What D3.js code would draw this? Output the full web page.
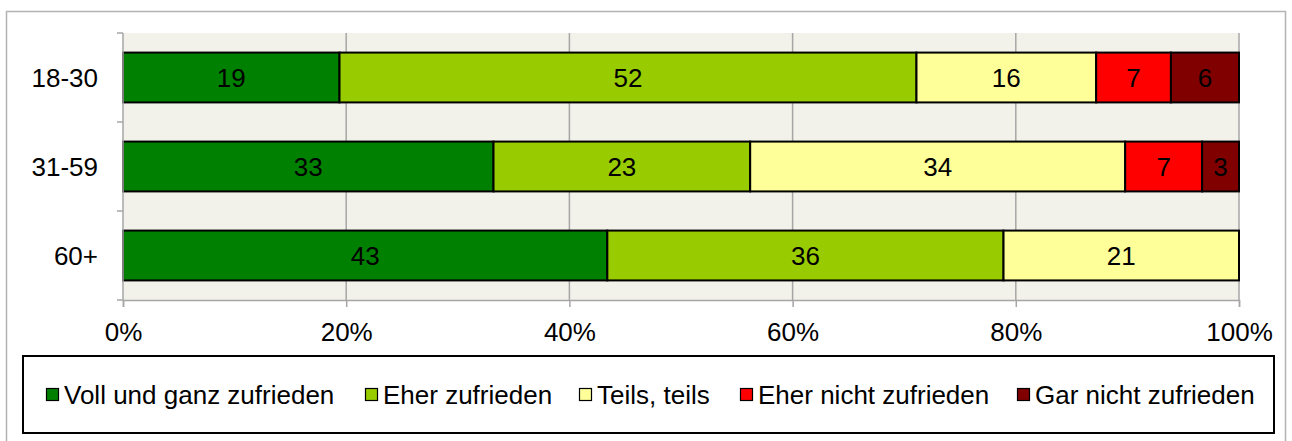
<!DOCTYPE html>
<html>
<head>
<meta charset="utf-8">
<script src="https://cdn.jsdelivr.net/npm/d3@7"></script>
<style>
  body { margin: 0; background: #fff; }
  svg { display: block; font-family: "Liberation Sans", Arial, sans-serif; }
</style>
</head>
<body>
<script>
// age groups and answer categories
const groups = ["18-30", "31-59", "60+"];
const answers = ["Voll und ganz zufrieden", "Eher zufrieden", "Teils, teils", "Eher nicht zufrieden", "Gar nicht zufrieden"];
const colors = ["#008000", "#99cc00", "#ffff99", "#ff0000", "#800000"];

// shares in percent, one array per answer (order = groups)
const vollZufrieden = [19.4, 33.2, 43.4];
const eherZufrieden = [51.7, 23.0, 35.5];
const teilsTeils = [16.1, 33.6, 21.1];
const eherNicht = [6.7, 6.9, 0];
const garNicht = [6.1, 3.3, 0];
const series = [vollZufrieden, eherZufrieden, teilsTeils, eherNicht, garNicht];

const xTicks = [0, 20, 40, 60, 80, 100];

const width = 1292;
const height = 441;
const fontSize = 26;
const plot = { left: 123, right: 1239, top: 33, bottom: 300 };

const svg = d3.select("body").append("svg")
  .attr("width", width)
  .attr("height", height);

// outer chart frame
svg.append("rect")
  .attr("x", 6.5).attr("y", 11.5)
  .attr("width", 1279).attr("height", 440)
  .attr("fill", "none")
  .attr("stroke", "#b3b3b3")
  .attr("stroke-width", 1.5);

const x = d3.scaleLinear()
  .domain([0, 100])
  .range([plot.left, plot.right]);

const y = d3.scaleBand()
  .domain(groups)
  .range([plot.top, plot.bottom])
  .paddingInner(0.44)
  .paddingOuter(0.22);

// plot background
svg.append("rect")
  .attr("x", x(0)).attr("y", plot.top)
  .attr("width", x(100) - x(0))
  .attr("height", plot.bottom - plot.top)
  .attr("fill", "#f2f1ea");

// vertical gridlines
svg.append("g")
  .selectAll("line")
  .data(xTicks.slice(1))
  .join("line")
  .attr("x1", d => x(d)).attr("x2", d => x(d))
  .attr("y1", plot.top).attr("y2", plot.bottom)
  .attr("stroke", "#a6a6a6")
  .attr("stroke-width", 1.5);

// stacking
const stacked = groups.map((g, gi) => {
  let acc = 0;
  return series.map((s, si) => {
    const seg = { group: g, idx: si, value: s[gi], x0: acc, x1: acc + s[gi] };
    acc += s[gi];
    return seg;
  }).filter(d => d.value > 0);
});

const bars = svg.append("g")
  .selectAll("g")
  .data(stacked)
  .join("g");

bars.selectAll("rect")
  .data(d => d)
  .join("rect")
  .attr("x", d => x(d.x0))
  .attr("y", d => y(d.group))
  .attr("width", d => x(d.x1) - x(d.x0))
  .attr("height", y.bandwidth())
  .attr("fill", d => colors[d.idx])
  .attr("stroke", "#000")
  .attr("stroke-width", 2);

bars.selectAll("text")
  .data(d => d)
  .join("text")
  .attr("x", d => (x(d.x0) + x(d.x1)) / 2)
  .attr("y", d => y(d.group) + y.bandwidth() / 2)
  .attr("dy", "0.35em")
  .attr("text-anchor", "middle")
  .attr("font-size", fontSize)
  .attr("fill", "#000")
  .text(d => Math.round(d.value));

// x axis
const xAxis = svg.append("g")
  .attr("transform", `translate(0,${plot.bottom})`)
  .call(d3.axisBottom(x).tickValues(xTicks).tickFormat(d => d + "%").tickSize(7).tickPadding(16));
xAxis.select(".domain").attr("stroke", "#a6a6a6").attr("stroke-width", 1.5);
xAxis.selectAll(".tick line").attr("stroke", "#a6a6a6").attr("stroke-width", 1.5);
xAxis.selectAll("text")
  .attr("font-size", fontSize)
  .attr("fill", "#000")
  .attr("font-family", "Liberation Sans, Arial, sans-serif");

// y axis: line with ticks between categories
svg.append("line")
  .attr("x1", x(0)).attr("x2", x(0))
  .attr("y1", plot.top).attr("y2", plot.bottom)
  .attr("stroke", "#a6a6a6").attr("stroke-width", 1.5);

const boundaries = [plot.top].concat(groups.map(g => y(g) + y.bandwidth() + y.step() * y.paddingInner() / 2));
boundaries[boundaries.length - 1] = plot.bottom;

svg.append("g")
  .selectAll("line")
  .data(boundaries)
  .join("line")
  .attr("x1", x(0) - 6).attr("x2", x(0))
  .attr("y1", d => d).attr("y2", d => d)
  .attr("stroke", "#a6a6a6").attr("stroke-width", 1.5);

svg.append("g")
  .selectAll("text")
  .data(groups)
  .join("text")
  .attr("x", 98)
  .attr("y", d => y(d) + y.bandwidth() / 2)
  .attr("dy", "0.35em")
  .attr("text-anchor", "end")
  .attr("font-size", fontSize)
  .text(d => d);

// legend
svg.append("rect")
  .attr("x", 23).attr("y", 356)
  .attr("width", 1251).attr("height", 77)
  .attr("fill", "#fff")
  .attr("stroke", "#000")
  .attr("stroke-width", 2);

const legendX = [46, 365, 579, 740, 1017];
const legend = svg.append("g")
  .selectAll("g")
  .data(answers)
  .join("g")
  .attr("transform", (d, i) => `translate(${legendX[i]},395)`);

legend.append("rect")
  .attr("x", 0.5).attr("y", -6.5)
  .attr("width", 12).attr("height", 12)
  .attr("fill", (d, i) => colors[i])
  .attr("stroke", "#000")
  .attr("stroke-width", 1.2);

legend.append("text")
  .attr("x", 18)
  .attr("dy", "0.35em")
  .attr("font-size", fontSize)
  .text(d => d);
</script>
</body>
</html>
